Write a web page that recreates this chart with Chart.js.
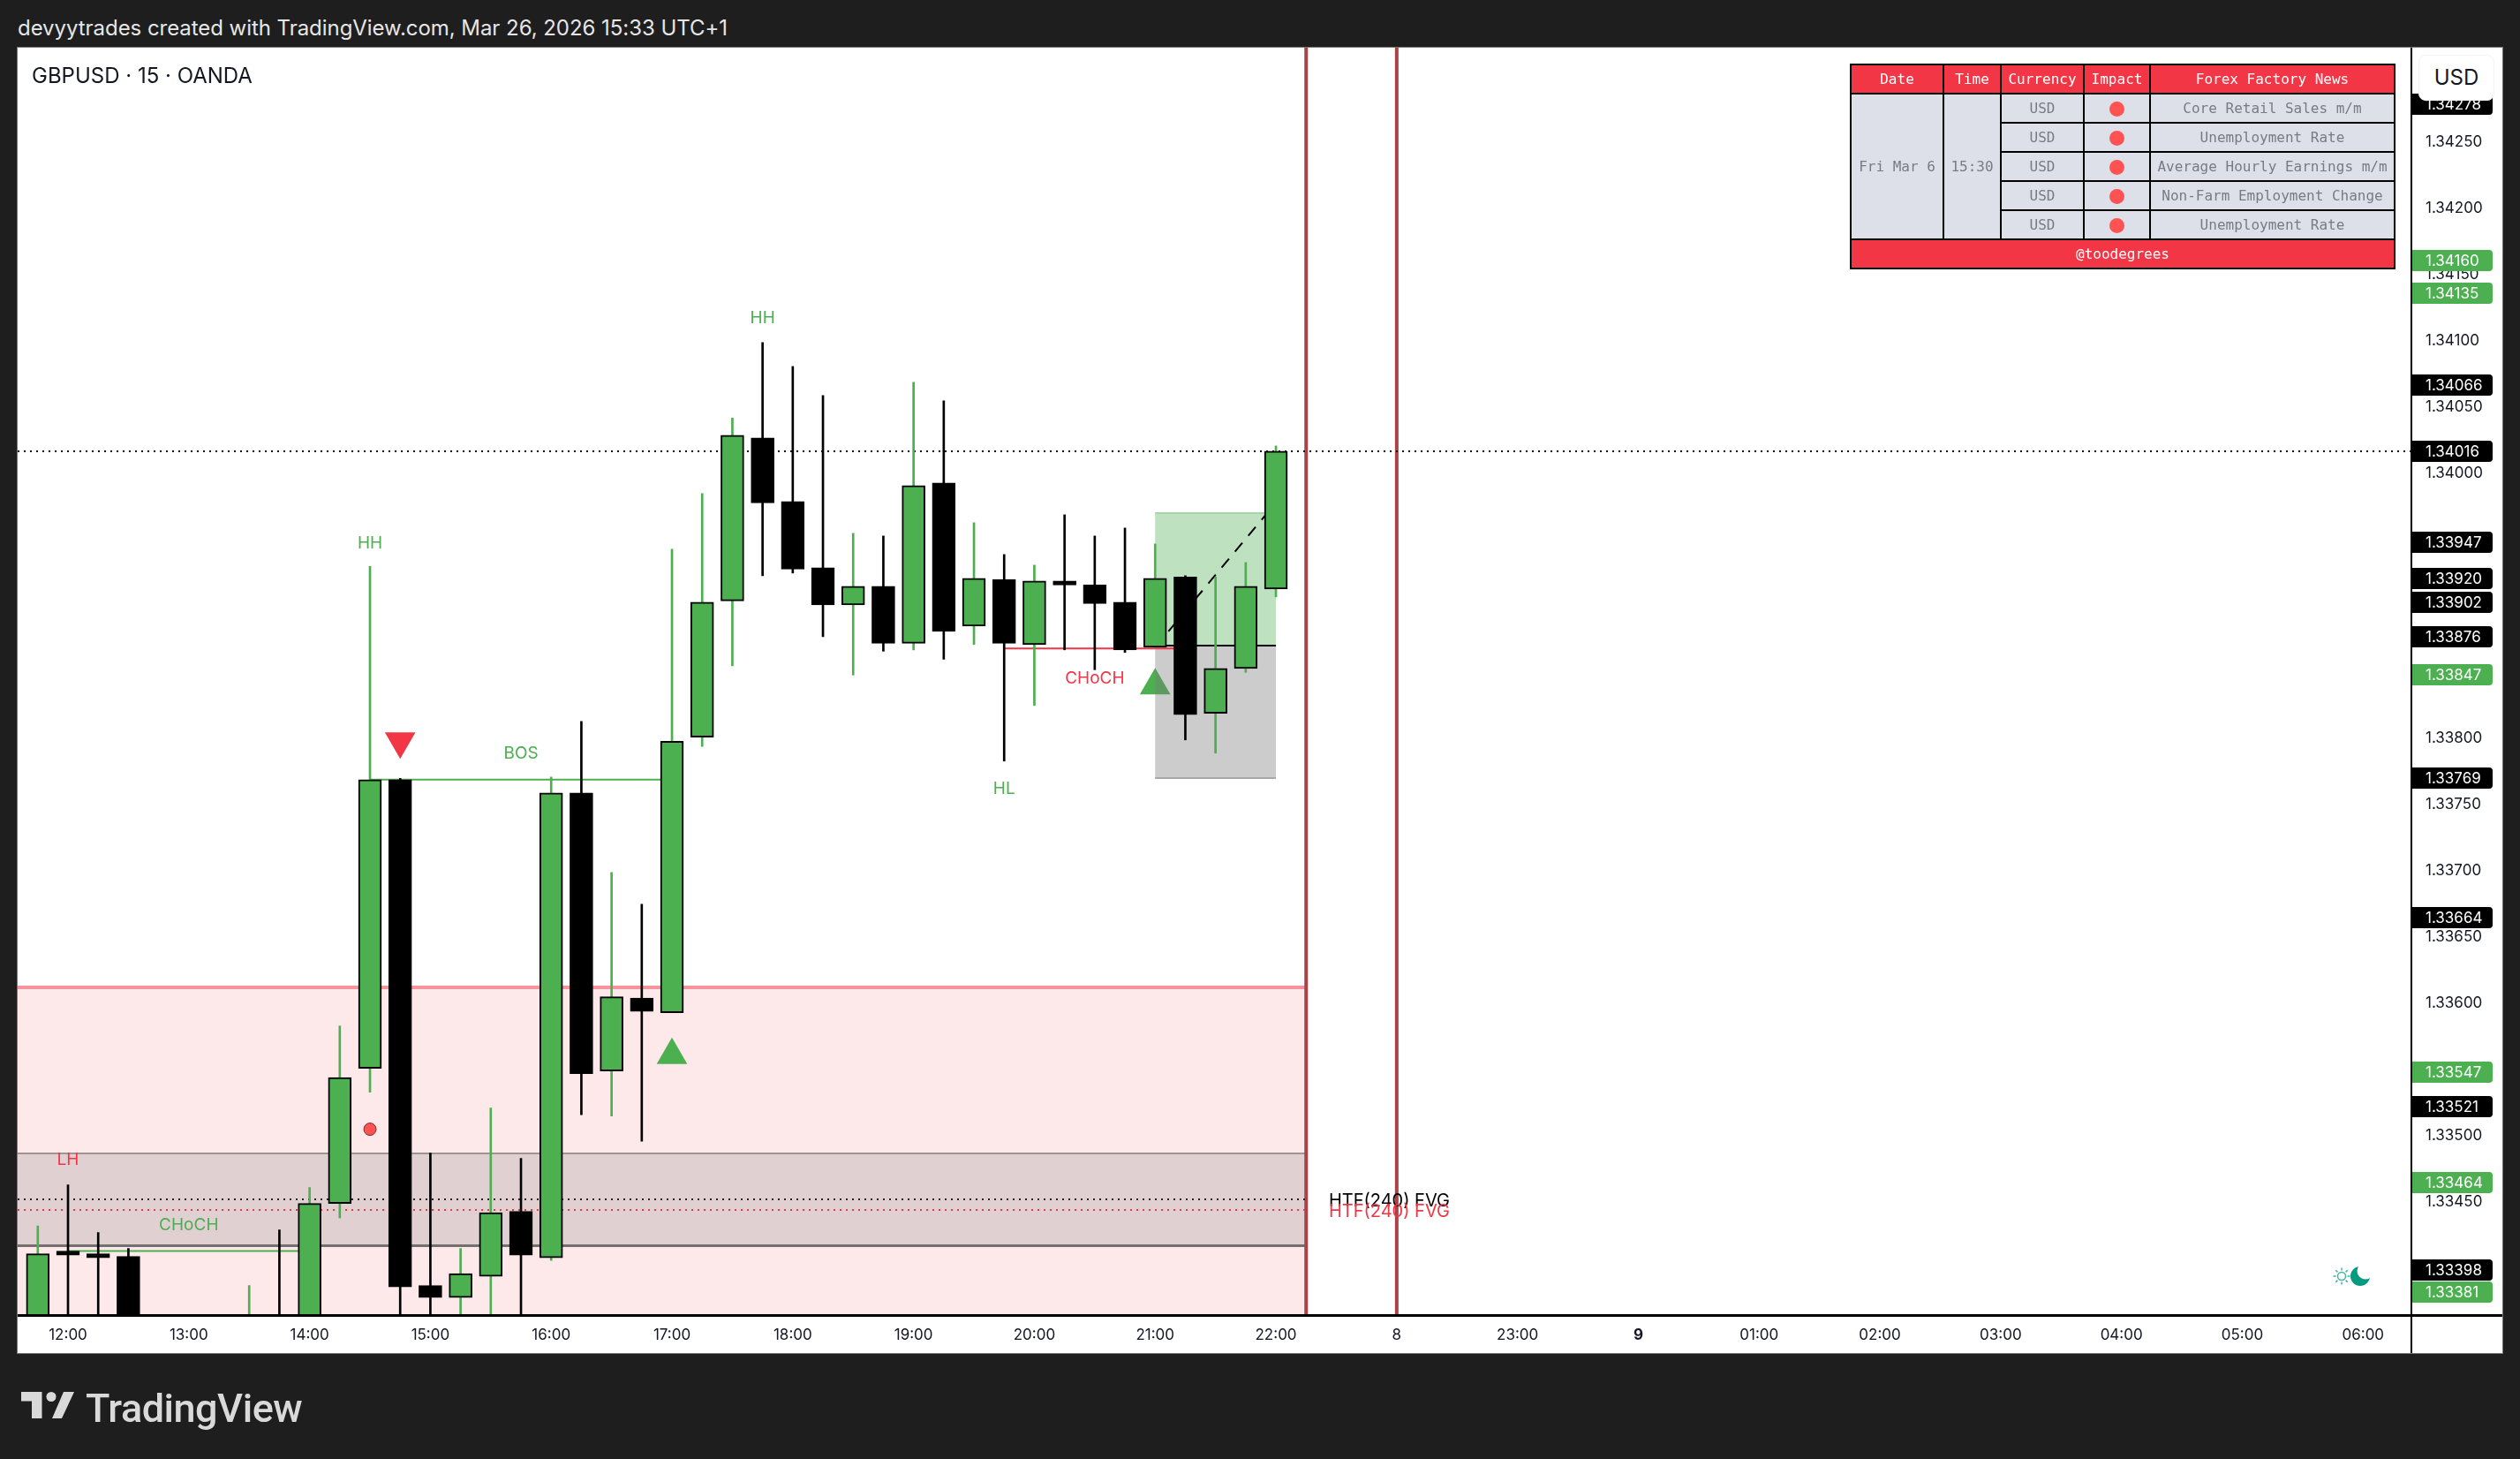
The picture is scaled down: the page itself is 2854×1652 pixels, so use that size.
<!DOCTYPE html>
<html>
<head>
<meta charset="utf-8">
<title>GBPUSD 15</title>
<script src="https://cdn.jsdelivr.net/npm/chart.js@4/dist/chart.umd.min.js"></script>
<style>
    html, body { margin: 0; width: 2854px; height: 1652px; background: #1e1e1e; overflow: hidden; }
    #head { position: absolute; left: 20px; top: 17px; color: #e6e6e6; font: 24px Inter, sans-serif; letter-spacing: -0.05px; }
    #panel { position: absolute; left: 20px; top: 54px; width: 2814px; height: 1478px; background: #fff; box-shadow: 0 0 0 1px #777; }
    #chart { position: absolute; left: 0; top: 0; }
    #legend { position: absolute; left: 36px; top: 71px; color: #131722; font: 24px Inter, sans-serif; }
    #usd { position: absolute; left: 2739px; top: 62px; width: 84px; height: 50px; background: #fff; border: 1px solid #f0f3fa; border-radius: 8px;
           color: #131722; font: 24px Inter, sans-serif; text-align: center; line-height: 50px; }
    #news { position: absolute; left: 2095px; top: 72px; width: 616px; table-layout: fixed; border-collapse: collapse;
            font: 16px "DejaVu Sans Mono", monospace; color: #787b86; text-align: center; }
    #news td, #news th { border: 2px solid #000; padding: 0; height: 31px; line-height: 31px; background: #dde0e9; font-weight: 400; white-space: nowrap; overflow: hidden; }
    #news th, #news td.foot { background: #f23645; color: #fff; }
    .dot { display: inline-block; width: 17px; height: 17px; border-radius: 50%; background: #ff5252; vertical-align: middle; }
    #logo { position: absolute; left: 24px; top: 1574px; }
    #brand { position: absolute; left: 97px; top: 1568px; color: #d9d9d9; font: 500 45px Roboto, sans-serif; letter-spacing: -0.5px; }
</style>
</head>
<body>
<div id="head">devyytrades created with TradingView.com, Mar 26, 2026 15:33 UTC+1</div>
<div id="panel"></div>
<canvas id="chart" width="2854" height="1652"></canvas>
<div id="legend">GBPUSD · 15 · OANDA</div>
<div id="usd">USD</div>
<table id="news">
    <colgroup><col style="width:105px"><col style="width:65px"><col style="width:94px"><col style="width:75px"><col style="width:277px"></colgroup>
    <tbody id="newsBody"></tbody>
</table>
<svg id="logo" width="62" height="34" viewBox="0 0 62 34">
    <path fill="#d9d9d9" d="M0 2h23.5v30h-11.500V12.500H0z"/>
    <circle fill="#d9d9d9" cx="34" cy="7.500" r="5.500"/>
    <path fill="#d9d9d9" d="M48 2h12L46 32H35z"/>
</svg>
<div id="brand">TradingView</div>

<script>
// ===== Candles, one per 15 minutes. Bar 0 is 12:00 =====
const barIndex = [-1, 0, 1, 2, 3, 4, 5, 6, 7, 8, 9, 10, 11, 12, 13, 14, 15, 16, 17, 18, 19, 20,
    21, 22, 23, 24, 25, 26, 27, 28, 29, 30, 31, 32, 33, 34, 35, 36, 37, 38, 39, 40];
const opens = [1.33345, 1.33412, 1.33410, 1.33408, 1.33350, 1.33345, 1.33335, 1.33335, 1.33355, 1.33355, 1.33448,
    1.33550, 1.33768, 1.33386, 1.33377, 1.33393, 1.33442, 1.33407, 1.33758, 1.33548, 1.33603, 1.33592,
    1.33800, 1.33903, 1.34026, 1.33978, 1.33928, 1.33900, 1.33914, 1.33871, 1.33992, 1.33884, 1.33919,
    1.33870, 1.33918, 1.33915, 1.33902, 1.33868, 1.33921, 1.33818, 1.33852, 1.33912];
const highs = [1.33431, 1.33462, 1.33426, 1.33414, 1.33355, 1.33352, 1.33350, 1.33386, 1.33428, 1.33460, 1.33582,
    1.33929, 1.33769, 1.33486, 1.33414, 1.33520, 1.33482, 1.33770, 1.33812, 1.33698, 1.33674, 1.33942,
    1.33984, 1.34041, 1.34098, 1.34080, 1.34058, 1.33954, 1.33952, 1.34068, 1.34054, 1.33962, 1.33938,
    1.33930, 1.33968, 1.33952, 1.33958, 1.33946, 1.33922, 1.33921, 1.33932, 1.34020];
const lows = [1.33335, 1.33340, 1.33345, 1.33335, 1.33330, 1.33325, 1.33325, 1.33325, 1.33330, 1.33350, 1.33437,
    1.33532, 1.33350, 1.33340, 1.33345, 1.33345, 1.33345, 1.33405, 1.33515, 1.33514, 1.33495, 1.33592,
    1.33793, 1.33854, 1.33922, 1.33924, 1.33876, 1.33847, 1.33865, 1.33866, 1.33859, 1.33870, 1.33782,
    1.33824, 1.33866, 1.33851, 1.33864, 1.33868, 1.33798, 1.33788, 1.33849, 1.33906];
const closes = [1.33410, 1.33409, 1.33407, 1.33345, 1.33340, 1.33335, 1.33345, 1.33355, 1.33340, 1.33448, 1.33543,
    1.33768, 1.33385, 1.33377, 1.33395, 1.33441, 1.33409, 1.33758, 1.33546, 1.33604, 1.33593, 1.33797,
    1.33902, 1.34028, 1.33977, 1.33927, 1.33900, 1.33914, 1.33871, 1.33990, 1.33880, 1.33920, 1.33871,
    1.33918, 1.33915, 1.33901, 1.33866, 1.33920, 1.33817, 1.33852, 1.33914, 1.34016];

// axis ticks
const timeLabels = ['12:00', '13:00', '14:00', '15:00', '16:00', '17:00', '18:00', '19:00', '20:00', '21:00', '22:00',
    '8', '23:00', '9', '01:00', '02:00', '03:00', '04:00', '05:00', '06:00'];
const priceTicks = [1.3345, 1.335, 1.3355, 1.336, 1.3365, 1.337, 1.3375, 1.338, 1.3385, 1.339, 1.3395,
    1.34, 1.3405, 1.341, 1.3415, 1.342, 1.3425, 1.343];

// price tags on the right axis
const blackTags = [1.34278, 1.34066, 1.34016, 1.33947, 1.33920, 1.33902, 1.33876, 1.33769, 1.33664, 1.33521, 1.33398];
const greenTags = [1.34160, 1.34135, 1.33847, 1.33547, 1.33464, 1.33381];

// drawings on the chart
const pinkZoneTop = 1.33611;
const fvgZone = [1.33486, 1.33416];
const longZone = [1.33969, 1.33869];
const stopZone = [1.33869, 1.33769];
const zoneBars = [36, 40];
const sessionLines = [41, 44];
const htfEnd = 41;
const blackFvgLevel = 1.33451;
const redFvgLevel = 1.33443;
const lastPrice = 1.34016;
const markerBars = [11, 20, 36];
const markerPrices = [1.33797, 1.33560, 1.33839];
const dotBar = [10];
const dotPrice = [1.33504];
const chochGreen = [[0, 1.33412], [8, 1.33412]];
const bosGreen = [[10, 1.33768], [20, 1.33768]];
const chochRed = [[31, 1.33867], [37, 1.33867]];
const tradePath = [[36, 1.33868], [39.7, 1.33969]];

const chartLabels = [
    ['LH', 0, 1.33482, '#f23645'],
    ['CHoCH', 4, 1.33433, '#4caf50'],
    ['HH', 10, 1.33948, '#4caf50'],
    ['BOS', 15, 1.33789, '#4caf50'],
    ['HH', 23, 1.34118, '#4caf50'],
    ['HL', 31, 1.33762, '#4caf50'],
    ['CHoCH', 34, 1.33846, '#f23645']
];

const newsTitles = ['Core Retail Sales m/m', 'Unemployment Rate', 'Average Hourly Earnings m/m', 'Non-Farm Employment Change', 'Unemployment Rate'];
const newsHeaders = ['Date', 'Time', 'Currency', 'Impact', 'Forex Factory News'];

const GREEN = '#4caf50';
const RED = '#f23645';
const X_MIN = -1.667;
const X_MAX = 77.6;
const Y_MIN = 1.333637;
const Y_MAX = 1.343207;

// ---------- news table ----------
const body = document.getElementById('newsBody');
let rows = '<tr>' + newsHeaders.map(h => `<th>${h}</th>`).join('') + '</tr>';
newsTitles.forEach((t, i) => {
    rows += '<tr>';
    if (i === 0) rows += '<td rowspan="5">Fri Mar 6</td><td rowspan="5">15:30</td>';
    rows += `<td>USD</td><td><span class="dot"></span></td><td>${t}</td></tr>`;
});
rows += '<tr><td class="foot" colspan="5">@toodegrees</td></tr>';
body.innerHTML = rows;

// ---------- helpers ----------
const isUp = i => closes[i] > opens[i];
const candleColors = barIndex.map((_, i) => isUp(i) ? GREEN : '#000');
const toPoints = arr => arr.map(p => ({ x: p[0], y: p[1] }));
const flatLine = (x1, x2, y) => [{ x: x1, y }, { x: x2, y }];
const upright = x => [{ x, y: Y_MIN }, { x, y: Y_MAX }];

function lineSet(data, color, width, dash) {
    return {
        type: 'line', data, order: 3,
        borderColor: color, borderWidth: width, borderDash: dash || [],
        pointRadius: 0, fill: false, tension: 0
    };
}

// ---------- inline plugins ----------
function fillBand(chart, band, x1, x2, color) {
    const { ctx, scales: { x, y } } = chart;
    const px1 = x.getPixelForValue(x1), px2 = x.getPixelForValue(x2);
    const py1 = y.getPixelForValue(band[0]), py2 = y.getPixelForValue(band[1]);
    ctx.fillStyle = color;
    ctx.fillRect(px1, py1, px2 - px1, py2 - py1);
}

function edge(chart, price, x1, x2, color, width) {
    const { ctx, scales: { x, y } } = chart;
    ctx.fillStyle = color;
    ctx.fillRect(x.getPixelForValue(x1), Math.round(y.getPixelForValue(price) - width / 2), x.getPixelForValue(x2) - x.getPixelForValue(x1), width);
}

const zonesPlugin = {
    id: 'zones',
    beforeDatasetsDraw(chart) {
        fillBand(chart, [pinkZoneTop, Y_MIN], X_MIN, htfEnd, '#fde8ea');
        fillBand(chart, fvgZone, X_MIN, htfEnd, '#e0d0d2');
        edge(chart, pinkZoneTop, X_MIN, htfEnd, '#f7939c', 4);
        edge(chart, fvgZone[0], X_MIN, htfEnd, '#9e9494', 2);
        edge(chart, fvgZone[1], X_MIN, htfEnd, '#757070', 3);
    },
    afterDatasetDraw(chart, args) {
        // the trade box sits above the signal triangles but under the candles
        if (args.index !== chart.data.datasets.length - 1) return;
        fillBand(chart, longZone, zoneBars[0], zoneBars[1], 'rgba(76,175,80,.36)');
        fillBand(chart, stopZone, zoneBars[0], zoneBars[1], 'rgba(120,120,120,.38)');
        edge(chart, longZone[0], zoneBars[0], zoneBars[1], '#a9d4ab', 2);
        edge(chart, stopZone[1], zoneBars[0], zoneBars[1], '#a8a8a8', 2);
        edge(chart, longZone[1], zoneBars[0], zoneBars[1], '#000', 2);
    }
};

const chromePlugin = {
    id: 'chrome',
    afterDraw(chart) {
        const { ctx, chartArea: a, scales: { x, y } } = chart;
        ctx.save();

        // labels placed on the chart
        ctx.font = '19px Inter, sans-serif';
        ctx.textAlign = 'center';
        ctx.textBaseline = 'middle';
        chartLabels.forEach(([t, bar, price, color]) => {
            ctx.fillStyle = color;
            ctx.fillText(t, x.getPixelForValue(bar), y.getPixelForValue(price) + 2);
        });

        ctx.font = '20px Inter, sans-serif';
        ctx.textAlign = 'left';
        ctx.fillStyle = '#000';
        ctx.fillText('HTF(240) FVG', x.getPixelForValue(41.75), y.getPixelForValue(blackFvgLevel) + 2);
        ctx.fillStyle = RED;
        ctx.fillText('HTF(240) FVG', x.getPixelForValue(41.75), y.getPixelForValue(redFvgLevel) + 2);

        // axis rules
        ctx.fillStyle = '#000';
        ctx.fillRect(a.left, a.bottom - 1, chart.width - 20 - a.left, 3);
        ctx.fillRect(a.right - 1, a.top, 2, 1532 - a.top);

        // price tags
        ctx.font = '17px Inter, sans-serif';
        const tag = (price, color) => {
            const py = Math.round(y.getPixelForValue(price));
            ctx.fillStyle = color;
            ctx.beginPath();
            ctx.roundRect(a.right + 1, py - 12, 91, 24, [0, 4, 4, 0]);
            ctx.fill();
            ctx.fillStyle = '#fff';
            ctx.fillText(price.toFixed(5), a.right + 16, py + 1);
        };
        blackTags.forEach(p => tag(p, '#000'));
        greenTags.forEach(p => tag(p, GREEN));

        // sun and moon badge
        ctx.strokeStyle = '#3fb5a3';
        ctx.lineWidth = 1.5;
        ctx.beginPath();
        ctx.arc(2652, 1445, 4.5, 0, Math.PI * 2);
        for (let i = 0; i < 8; i++) {
            const t = i * Math.PI / 4;
            ctx.moveTo(2652 + Math.cos(t) * 6.5, 1445 + Math.sin(t) * 6.5);
            ctx.lineTo(2652 + Math.cos(t) * 9.5, 1445 + Math.sin(t) * 9.5);
        }
        ctx.stroke();
        ctx.fillStyle = '#089981';
        ctx.beginPath();
        ctx.arc(2673, 1445, 11, 0, Math.PI * 2);
        ctx.fill();
        ctx.fillStyle = '#fff';
        ctx.beginPath();
        ctx.arc(2679, 1439, 9.5, 0, Math.PI * 2);
        ctx.fill();

        ctx.restore();
    }
};

// ---------- the chart ----------
const datasets = [
    // bodies
    {
        data: barIndex.map((b, i) => ({ x: b, y: [opens[i], closes[i]] })),
        order: 1, grouped: false, barThickness: 26,
        backgroundColor: candleColors, borderColor: '#000', borderWidth: 2, borderSkipped: false
    },
    // wicks
    {
        data: barIndex.map((b, i) => ({ x: b, y: [lows[i], highs[i]] })),
        order: 2, grouped: false, barThickness: 2,
        backgroundColor: candleColors, borderWidth: 0
    },
    lineSet(flatLine(X_MIN, X_MAX, lastPrice), '#000', 2, [2, 5]),
    lineSet(flatLine(X_MIN, htfEnd, blackFvgLevel), '#222', 2, [2, 5]),
    lineSet(flatLine(X_MIN, htfEnd, redFvgLevel), RED, 2, [2, 5]),
    lineSet(toPoints(chochGreen), GREEN, 2),
    lineSet(toPoints(bosGreen), GREEN, 2),
    lineSet(toPoints(chochRed), RED, 2),
    lineSet(toPoints(tradePath), '#000', 2, [13, 10.5]),
    lineSet(upright(sessionLines[0]), '#a84448', 4),
    lineSet(upright(sessionLines[1]), '#a84448', 4),
    // red dot
    {
        type: 'line', showLine: false, order: 4,
        data: dotBar.map((b, i) => ({ x: b, y: dotPrice[i] })),
        pointRadius: 7, pointBackgroundColor: '#ff5252', pointBorderColor: '#7c2b2b', pointBorderWidth: 1
    },
    // signal triangles, last dataset: the trade box is painted right after it
    {
        type: 'line', showLine: false, order: 5,
        data: markerBars.map((b, i) => ({ x: b, y: markerPrices[i] })),
        pointStyle: 'triangle', pointRadius: 20, pointBorderWidth: 0,
        pointRotation: [180, 0, 0],
        pointBackgroundColor: [RED, GREEN, GREEN]
    }
];

new Chart(document.getElementById('chart'), {
    type: 'bar',
    data: { datasets },
    options: {
        responsive: false,
        animation: false,
        layout: { padding: { left: 20, top: 54, right: 20, bottom: 120 } },
        plugins: { legend: { display: false }, tooltip: { enabled: false } },
        scales: {
            x: {
                type: 'linear', offset: false, min: X_MIN, max: X_MAX,
                grid: { display: false, drawTicks: false },
                border: { display: false },
                afterFit(scale) { scale.height = 43; },
                afterBuildTicks(scale) { scale.ticks = timeLabels.map((_, i) => ({ value: i * 4 })); },
                ticks: {
                    autoSkip: false, maxRotation: 0, padding: 13, color: '#131722',
                    font: ctx => ({ family: 'Inter, sans-serif', size: 17, weight: ctx.tick && timeLabels[ctx.tick.value / 4] === '9' ? 'bold' : 'normal' }),
                    callback: v => timeLabels[v / 4]
                }
            },
            y: {
                type: 'linear', position: 'right', min: Y_MIN, max: Y_MAX,
                grid: { display: false, drawTicks: false },
                border: { display: false },
                afterFit(scale) { scale.width = 103; },
                afterBuildTicks(scale) { scale.ticks = priceTicks.map(v => ({ value: v })); },
                ticks: {
                    autoSkip: false, padding: 16, crossAlign: 'near', color: '#131722', labelOffset: 1,
                    font: { family: 'Inter, sans-serif', size: 17 },
                    callback: v => v.toFixed(5)
                }
            }
        }
    },
    plugins: [zonesPlugin, chromePlugin]
});
</script>
</body>
</html>
